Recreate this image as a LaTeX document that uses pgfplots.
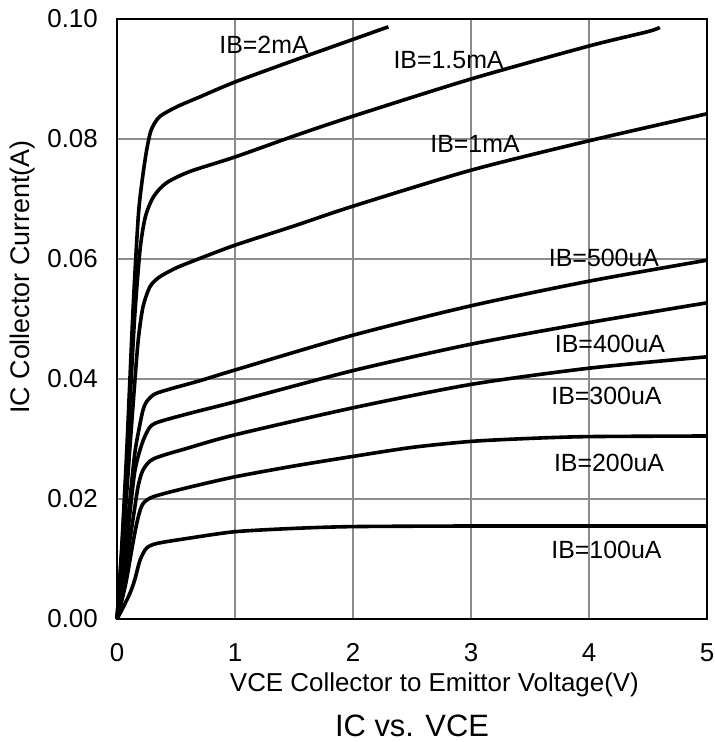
\documentclass[border=0pt]{standalone}
\usepackage{fontspec}
\setmainfont{Liberation Sans}
\usepackage{pgfplots}
\pgfplotsset{compat=1.18}
\begin{document}
\begin{tikzpicture}
\useasboundingbox (-117bp,-123bp) rectangle (598bp,600bp+19bp);
\begin{axis}[
  at={(0,0)}, anchor=south west,
  scale only axis, width=590bp, height=600bp,
  xmin=0, xmax=5, ymin=0, ymax=0.1,
  xtick={0,1,2,3,4,5}, ytick={0,0.02,0.04,0.06,0.08,0.1},
  scaled y ticks=false,
  grid=major, major grid style={black!45, line width=1.3bp},
  major tick length=0pt,
  axis line style={line width=1.7bp, black},
  ticklabel style={font=\fontsize{26}{30}\selectfont, inner sep=0pt},
  /pgf/number format/assume math mode=true,
  yticklabel style={/pgf/number format/fixed, /pgf/number format/fixed zerofill, /pgf/number format/precision=2, xshift=-19bp},
  xticklabel style={yshift=-24bp},
  clip=false,
  cycle list={{black, solid, mark=none}},
  every axis plot post/.append style={line width=3.6bp, black, solid, mark=none, smooth, tension=0.45},
]
% IB=2mA
\addplot coordinates {(0,0) (0.04,0.012) (0.08,0.027) (0.105,0.038) (0.14,0.0532) (0.18,0.067) (0.21,0.0726) (0.25,0.078) (0.29,0.0815) (0.36,0.0837) (0.51,0.0854) (0.7,0.0870) (1,0.0895) (1.5,0.0931) (2,0.0966) (2.3,0.0987)};
% IB=1.5mA
\addplot coordinates {(0,0) (0.04,0.011) (0.08,0.025) (0.115,0.038) (0.15,0.0504) (0.195,0.0615) (0.24,0.067) (0.31,0.0704) (0.42,0.0727) (0.62,0.0746) (1,0.077) (1.5,0.0805) (2,0.0838) (3,0.090) (4,0.0955) (4.5,0.0979) (4.6,0.0986)};
% IB=1mA
\addplot coordinates {(0,0) (0.05,0.012) (0.1,0.026) (0.145,0.038) (0.18,0.0465) (0.22,0.052) (0.28,0.0554) (0.36,0.057) (0.5,0.0585) (0.65,0.0597) (1,0.0623) (1.5,0.0655) (2,0.0688) (3,0.0748) (4,0.0797) (5,0.0842)};
% IB=500uA
\addplot coordinates {(0,0) (0.05,0.008) (0.1,0.018) (0.15,0.0275) (0.19,0.032) (0.22,0.0348) (0.25,0.0362) (0.32,0.0375) (0.48,0.0385) (0.7,0.0397) (1,0.0415) (2,0.0473) (3,0.0522) (4,0.0563) (5,0.0598)};
% IB=400uA
\addplot coordinates {(0,0) (0.05,0.007) (0.1,0.016) (0.15,0.0245) (0.2,0.0285) (0.25,0.031) (0.32,0.0326) (0.62,0.0343) (1,0.0362) (2,0.0414) (3,0.0458) (4,0.0494) (5,0.0527)};
% IB=300uA
\addplot coordinates {(0,0) (0.05,0.006) (0.1,0.012) (0.15,0.0185) (0.18,0.0222) (0.22,0.0248) (0.31,0.0267) (0.62,0.0286) (1,0.0307) (2,0.0352) (3,0.0391) (4,0.0418) (5,0.0437)};
% IB=200uA
\addplot coordinates {(0,0) (0.04,0.003) (0.08,0.0065) (0.14,0.0132) (0.18,0.017) (0.22,0.0192) (0.31,0.0204) (0.62,0.022) (1,0.0237) (1.5,0.0255) (2,0.0271) (2.5,0.0286) (3,0.0296) (3.5,0.0301) (4,0.0304) (5,0.0305)};
% IB=100uA
\addplot coordinates {(0,0) (0.054,0.002) (0.11,0.0043) (0.15,0.0065) (0.195,0.0098) (0.25,0.0118) (0.34,0.0126) (0.62,0.0135) (1,0.01455) (1.5,0.0151) (2,0.0154) (3,0.0155) (4,0.0155) (5,0.0155)};

\begin{scope}[every node/.style={font=\fontsize{25}{30}\selectfont, inner sep=0pt}]
\node at (axis cs:1.246,0.0957) {IB=2mA};
\node at (axis cs:2.81,0.0932) {IB=1.5mA};
\node at (axis cs:3.034,0.0791) {IB=1mA};
\node at (axis cs:4.127,0.0602) {IB=500uA};
\node at (axis cs:4.178,0.0458) {IB=400uA};
\node at (axis cs:4.148,0.0372) {IB=300uA};
\node at (axis cs:4.17,0.026) {IB=200uA};
\node at (axis cs:4.148,0.0115) {IB=100uA};
\end{scope}
\node[anchor=base, font=\fontsize{26}{30}\selectfont, inner sep=0pt] at ([yshift=-72bp]axis cs:2.69,0) {VCE Collector to Emittor Voltage(V)};
\node[anchor=base, font=\fontsize{31}{36}\selectfont, inner sep=0pt] at ([yshift=-117bp]axis cs:2.5,0) {IC vs. VCE};
\node[rotate=90, font=\fontsize{27}{30}\selectfont, inner sep=0pt] at ([xshift=-94bp]axis cs:0,0.057) {IC Collector Current(A)};
\end{axis}
\end{tikzpicture}
\end{document}
